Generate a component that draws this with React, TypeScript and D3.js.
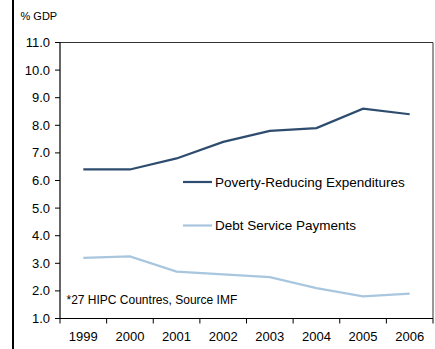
import React from "react";
import * as d3 from "d3";

const years = ["1999", "2000", "2001", "2002", "2003", "2004", "2005", "2006"];
const povertyValues = [6.4, 6.4, 6.8, 7.4, 7.8, 7.9, 8.6, 8.4];
const debtValues = [3.2, 3.25, 2.7, 2.6, 2.5, 2.1, 1.8, 1.9];
const yTicks = [1, 2, 3, 4, 5, 6, 7, 8, 9, 10, 11];
const seriesNames = ["Poverty-Reducing Expenditures", "Debt Service Payments"];
const colors = ["#2e4d6e", "#a9c6df"];

export default function App() {
  const W = 435, H = 349;
  const left = 60, right = 433, top = 42.5, bottom = 318.5;
  const x = d3.scaleBand<string>().domain(years).range([left, right]);
  const y = d3.scaleLinear().domain([1, 11]).range([bottom, top]);
  const line = d3
    .line<number>()
    .x((_, i) => (x(years[i]) as number) + x.bandwidth() / 2)
    .y((d) => y(d));
  const font = "Arial, 'Liberation Sans', sans-serif";
  const boundaries = [...years.map((yr) => x(yr) as number), right];
  return (
    <svg
      width={W}
      height={H}
      style={{ position: "absolute", left: 0, top: 0, background: "#fff" }}
      fontFamily={font}
    >
      <line x1={13} x2={13} y1={0} y2={H} stroke="#000" strokeWidth={2} />
      <text x={20.5} y={20} fontSize={11} fill="#000">% GDP</text>
      {/* plot frame top and right */}
      <line x1={left} x2={right} y1={top} y2={top} stroke="#333" strokeWidth={1} />
      <line x1={right} x2={right} y1={top} y2={bottom} stroke="#333" strokeWidth={1} />
      {/* y axis */}
      <line x1={left} x2={left} y1={top} y2={bottom} stroke="#000" strokeWidth={1.2} />
      {yTicks.map((t) => (
        <g key={t}>
          <line x1={left - 5} x2={left} y1={y(t)} y2={y(t)} stroke="#000" />
          <text x={50} y={y(t)} dy="0.35em" textAnchor="end" fontSize={13} fill="#000">
            {t.toFixed(1)}
          </text>
        </g>
      ))}
      {/* x axis */}
      <line x1={left} x2={right} y1={bottom} y2={bottom} stroke="#000" strokeWidth={1.2} />
      {boundaries.map((b, i) => (
        <line key={i} x1={b} x2={b} y1={bottom} y2={bottom + 5} stroke="#000" />
      ))}
      {years.map((yr) => (
        <text
          key={yr}
          x={(x(yr) as number) + x.bandwidth() / 2}
          y={336.5}
          dy="0.35em"
          textAnchor="middle"
          fontSize={13}
          fill="#000"
        >
          {yr}
        </text>
      ))}
      <path d={line(povertyValues) || ""} fill="none" stroke={colors[0]} strokeWidth={2.2} />
      <path d={line(debtValues) || ""} fill="none" stroke={colors[1]} strokeWidth={2.2} />
      {/* legend */}
      {seriesNames.map((n, i) => {
        const ly = i === 0 ? 182 : 225.5;
        return (
          <g key={n}>
            <line x1={183} x2={212} y1={ly} y2={ly} stroke={colors[i]} strokeWidth={2.2} />
            <text x={215} y={ly} dy="0.35em" fontSize={13.5} fill="#000">
              {n}
            </text>
          </g>
        );
      })}
      <text x={66.5} y={300} dy="0.35em" fontSize={12} fill="#000">
        *27 HIPC Countres, Source IMF
      </text>
    </svg>
  );
}
